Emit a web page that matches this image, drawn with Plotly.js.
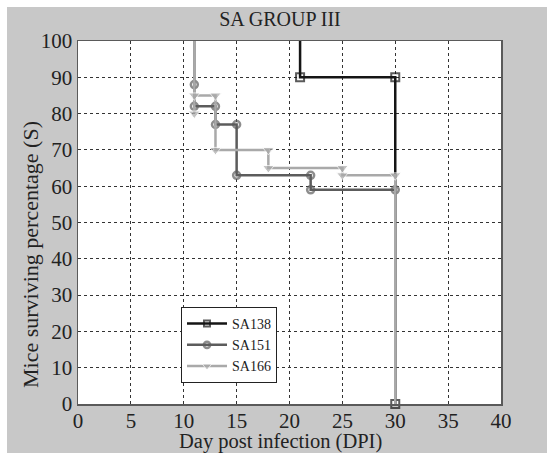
<!DOCTYPE html>
<html>
<head>
<meta charset="utf-8">
<script src="https://cdn.plot.ly/plotly-3.0.1.min.js"></script>
<style>
  html, body { margin: 0; padding: 0; background: #ffffff; }
  #wrap { position: relative; width: 547px; height: 453px; background: #ffffff; overflow: hidden; }
  #chart { position: absolute; left: 7px; top: 7px; width: 540px; height: 446px; }
</style>
</head>
<body>
<div id="wrap"><div id="chart"></div></div>
<script>
// Data
const chartTitle = 'SA GROUP III';
const xTitle = 'Day post infection (DPI)';
const yTitle = 'Mice surviving percentage (S)';
const seriesNames = ['SA138', 'SA151', 'SA166'];

const sa138Day  = [21, 21, 30, 30];
const sa138Surv = [100, 90, 90, 0];

const sa151Day  = [11, 11, 11, 13, 13, 15, 15, 22, 22, 30];
const sa151Surv = [100, 88, 82, 82, 77, 77, 63, 63, 59, 59];

const sa166Day  = [11, 11, 11, 13, 13, 18, 18, 25, 25, 30, 30];
const sa166Surv = [100, 80, 85, 85, 70, 70, 65, 65, 63, 63, 0];

const xTickVals = [0, 5, 10, 15, 20, 25, 30, 35, 40];
const yTickVals = [0, 10, 20, 30, 40, 50, 60, 70, 80, 90, 100];

const fontFam = '"Liberation Serif", "DejaVu Serif", serif';

function sizes(arr, s, hideLast) {
  return arr.map((_, i) => (i === 0 || (hideLast && i === arr.length - 1)) ? 0 : s);
}

const traces = [
  {
    x: sa138Day, y: sa138Surv, name: seriesNames[0], type: 'scatter', mode: 'lines+markers',
    line: { color: '#151515', width: 2.5 },
    marker: { symbol: 'square-open', size: sizes(sa138Day, 8, false), color: '#151515', line: { width: 2, color: '#151515' } },
    cliponaxis: false
  },
  {
    x: sa151Day, y: sa151Surv, name: seriesNames[1], type: 'scatter', mode: 'lines+markers',
    line: { color: '#5c5c5c', width: 2.5 },
    marker: { symbol: 'circle-open', size: sizes(sa151Day, 7, false), color: '#5c5c5c', line: { width: 2.5, color: '#5c5c5c' } },
    cliponaxis: false
  },
  {
    x: sa166Day, y: sa166Surv, name: seriesNames[2], type: 'scatter', mode: 'lines+markers',
    line: { color: '#a9a9a9', width: 2.5 },
    marker: { symbol: 'triangle-down', size: sizes(sa166Day, 10, true), color: '#a9a9a9' },
    cliponaxis: false
  }
];

const axisCommon = {
  showline: true, mirror: true, linecolor: '#5a5a5a', linewidth: 1.5,
  showgrid: true, gridcolor: '#333333', gridwidth: 1, griddash: '3px,3px',
  zeroline: false, ticks: '',
  tickfont: { family: fontFam, size: 21, color: '#222222' }
};

const layout = {
  width: 540, height: 446,
  paper_bgcolor: '#c8c8c8', plot_bgcolor: '#ffffff',
  margin: { l: 71, r: 46, t: 34, b: 49, pad: 0 },
  title: {
    text: chartTitle, xref: 'container', yref: 'container',
    x: 273 / 540, xanchor: 'center', y: 1 - 12 / 446, yanchor: 'middle',
    font: { family: fontFam, size: 20, color: '#222222' }
  },
  xaxis: Object.assign({}, axisCommon, { range: [0, 40], tickvals: xTickVals, ticklabelstandoff: -3 }),
  yaxis: Object.assign({}, axisCommon, { range: [0, 100], tickvals: yTickVals, ticklabelstandoff: 0 }),
  showlegend: true,
  legend: {
    x: (181 - 78) / 423, y: (404 - 307) / 363, xanchor: 'left', yanchor: 'top',
    bgcolor: '#ffffff', bordercolor: '#222222', borderwidth: 1,
    font: { family: fontFam, size: 14, color: '#222222' },
    tracegroupgap: 0, itemwidth: 40
  },
  annotations: [
    {
      text: xTitle, xref: 'paper', yref: 'paper', x: (280 - 78) / 423, y: (404 - 441) / 363,
      xanchor: 'center', yanchor: 'middle', showarrow: false,
      font: { family: fontFam, size: 20.5, color: '#222222' }
    },
    {
      text: yTitle, xref: 'paper', yref: 'paper', x: (30 - 78) / 423, y: (404 - 255) / 363,
      xanchor: 'center', yanchor: 'middle', showarrow: false, textangle: -90,
      font: { family: fontFam, size: 22, color: '#222222' }
    }
  ]
};

Plotly.newPlot('chart', traces, layout, { displayModeBar: false, staticPlot: true });
</script>
</body>
</html>
